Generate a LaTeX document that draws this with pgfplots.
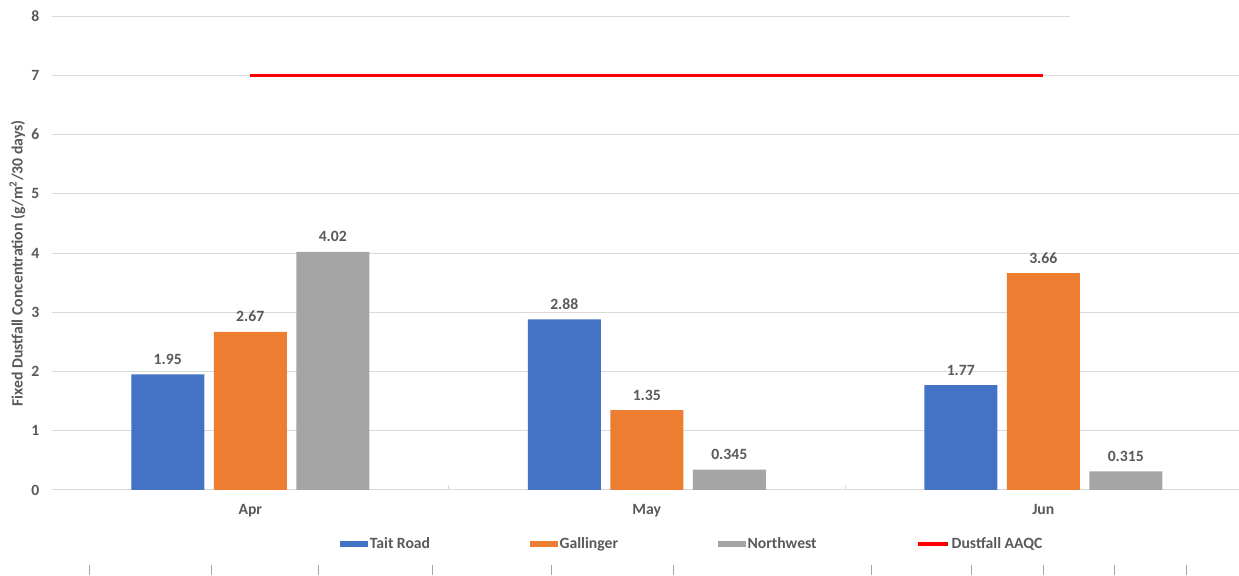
\documentclass[border=0pt]{standalone}
\usepackage{fontspec}
\setmainfont{Carlito}
\usepackage{pgfplots}
\usepackage{pgfplotstable}
\pgfplotsset{compat=1.18}
\definecolor{cblue}{HTML}{4472C4}
\definecolor{corange}{HTML}{ED7D31}
\definecolor{cgray}{HTML}{A5A5A5}
\definecolor{gridc}{HTML}{D9D9D9}
\definecolor{textc}{HTML}{595959}
\pgfplotstableread{
x tait gall nw
0 1.95 2.67 4.02
1 2.88 1.35 0.345
2 1.77 3.66 0.315
}\data
\pgfplotstableread{
x y
0 7
2 7
}\aaqc
\newcommand{\lbl}{\bfseries\fontsize{11.75}{13.5}\selectfont}
\begin{document}
\begin{tikzpicture}
\path[use as bounding box] (0,0) rectangle (929.25pt,431.25pt);
\begin{axis}[
  at={(39pt,63.75pt)}, anchor=south west,
  scale only axis, width=890.25pt, height=355.5pt,
  xmin=-0.5, xmax=2.4937, ymin=0, ymax=8,
  /pgf/number format/assume math mode=true,
  axis x line*=bottom, axis y line*=left,
  x axis line style={draw=gridc, line width=0.75pt, -},
  y axis line style={draw=none},
  tick align=inside,
  xtick={0,1,2}, xticklabels={Apr,May,Jun},
  minor xtick={0.5,1.5},
  major tick length=0pt, minor tick length=4pt,
  tick style={draw=gridc, line width=0.75pt},
  ytick={0,1,...,7},
  extra y ticks={8}, extra y tick style={grid=none},
  ymajorgrids, grid style={draw=gridc, line width=0.75pt},
  tick label style={font=\lbl, text=textc},
  yticklabel style={xshift=-6pt},
  xticklabel style={yshift=-7.5pt},
  ylabel={Fixed Dustfall Concentration (g/m\textsuperscript{2}/30 days)},
  ylabel style={at={(axis description cs:-0.0292,0.478)}, anchor=center, font=\bfseries\fontsize{11.8}{13}\selectfont, text=textc},
  legend columns=4,
  legend style={at={(axis description cs:0.2426,-0.1139)}, anchor=west, draw=none, fill=none,
    font=\lbl, text=textc, inner sep=0pt,
    nodes={inner sep=1.2pt},
    /tikz/every even column/.append style={column sep=73.8pt}},
]
\addplot[ybar, bar width=54.75pt, bar shift=-61.875pt, fill=cblue, draw=none,
  nodes near coords={\pgfmathprintnumber[fixed,precision=3]{\pgfplotspointmeta}},
  every node near coord/.append style={font=\lbl, text=textc, yshift=3.8pt, xshift=-61.875pt},
  legend image code/.code={\fill[cblue] (0pt,-2.5pt) rectangle (21pt,2.5pt);}]
  table[x=x,y=tait]{\data};
\addlegendentry{Tait Road}
\addplot[ybar, bar width=54.75pt, bar shift=0pt, fill=corange, draw=none,
  nodes near coords={\pgfmathprintnumber[fixed,precision=3]{\pgfplotspointmeta}},
  every node near coord/.append style={font=\lbl, text=textc, yshift=3.8pt},
  legend image code/.code={\fill[corange] (0pt,-2.5pt) rectangle (21pt,2.5pt);}]
  table[x=x,y=gall]{\data};
\addlegendentry{Gallinger}
\addplot[ybar, bar width=54.75pt, bar shift=61.875pt, fill=cgray, draw=none,
  nodes near coords={\pgfmathprintnumber[fixed,precision=3]{\pgfplotspointmeta}},
  every node near coord/.append style={font=\lbl, text=textc, yshift=3.8pt, xshift=61.875pt},
  legend image code/.code={\fill[cgray] (0pt,-2.5pt) rectangle (21pt,2.5pt);}]
  table[x=x,y=nw]{\data};
\addlegendentry{Northwest}
\addplot[sharp plot, mark=none, draw=red, line width=2.6pt,
  legend image code/.code={\draw[red, line width=2.6pt] (0pt,0pt) -- (22.5pt,0pt);}]
  table[x=x,y=y]{\aaqc};
\addlegendentry{Dustfall AAQC}
\draw[gridc, line width=0.75pt] (axis cs:-0.5,8) -- (axis cs:2.0675,8);
\end{axis}
\foreach \px in {89,211,318,432,551,673,871,971,1043,1114,1186}
  \draw[gray!70, line width=0.75pt] (\px*0.75pt,0pt) -- (\px*0.75pt,7.5pt);
\end{tikzpicture}
\end{document}
